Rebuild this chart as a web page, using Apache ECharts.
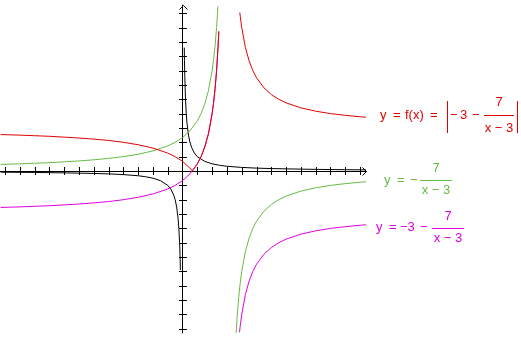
<!DOCTYPE html>
<html>
<head>
<meta charset="utf-8">
<script src="https://cdn.jsdelivr.net/npm/echarts@6/dist/echarts.min.js"></script>
<style>
  html, body { margin: 0; padding: 0; background: #fff; }
  #chart { width: 521px; height: 338px; }
</style>
</head>
<body>
<div id="chart"></div>
<script>
// axis extents (units)
const xMin = -12.34, xMax = 12.4;
const yMin = -11.29, yMax = 11.57;

// tick positions
const xTicks = [-12, -11, -10, -9, -8, -7, -6, -5, -4, -3, -2, -1, 1, 2, 3, 4, 5, 6, 7, 8, 9, 10, 11, 12];
const yTicks = [-11, -10, -9, -8, -7, -6, -5, -4, -3, -2, -1, 1, 2, 3, 4, 5, 6, 7, 8, 9, 10, 11];

// black curve
const blackLeft = [[-12.3, -0.08], [-10, -0.1], [-8, -0.13], [-6, -0.17], [-5, -0.2], [-4, -0.25], [-3, -0.33],
  [-2.5, -0.4], [-2, -0.5], [-1.5, -0.67], [-1, -1], [-0.8, -1.25], [-0.6, -1.67], [-0.5, -2], [-0.4, -2.5],
  [-0.3, -3.33], [-0.25, -4], [-0.2, -5], [-0.17, -5.88], [-0.145, -6.9]];
const blackRight = [[0.116, 8.6], [0.13, 7.7], [0.15, 6.67], [0.2, 5], [0.25, 4], [0.3, 3.33], [0.4, 2.5],
  [0.5, 2], [0.6, 1.67], [0.8, 1.25], [1, 1], [1.5, 0.67], [2, 0.5], [2.5, 0.4], [3, 0.33], [4, 0.25],
  [5, 0.2], [6, 0.17], [8, 0.13], [10, 0.1], [12.4, 0.08]];

// green: y = -7/(x-3)
const greenLeft = [[-12.3, 0.46], [-11, 0.5], [-10, 0.54], [-9, 0.58], [-8, 0.64], [-7, 0.7], [-6, 0.78],
  [-5, 0.88], [-4, 1], [-3, 1.17], [-2, 1.4], [-1, 1.75], [-0.5, 2], [0, 2.33], [0.5, 2.8], [1, 3.5],
  [1.25, 4], [1.5, 4.67], [1.75, 5.6], [2, 7], [2.1, 7.78], [2.2, 8.75], [2.3, 10], [2.39, 11.48]];
const greenRight = [[3.62, -11.29], [3.7, -10], [3.8, -8.75], [3.9, -7.78], [4, -7], [4.25, -5.6], [4.5, -4.67],
  [4.75, -4], [5, -3.5], [5.5, -2.8], [6, -2.33], [6.5, -2], [7, -1.75], [8, -1.4], [9, -1.17], [10, -1],
  [11, -0.88], [12, -0.78], [12.4, -0.75]];

// magenta: y = -3 - 7/(x-3)
const magentaLeft = [[-12.3, -2.54], [-11, -2.5], [-10, -2.46], [-9, -2.42], [-8, -2.36], [-7, -2.3], [-6, -2.22],
  [-5, -2.13], [-4, -2], [-3, -1.83], [-2, -1.6], [-1, -1.25], [-0.5, -1], [0, -0.67], [0.5, -0.2], [1, 0.5],
  [1.25, 1], [1.5, 1.67], [1.75, 2.6], [2, 4], [2.1, 4.78], [2.2, 5.75], [2.3, 7], [2.4, 8.67], [2.45, 9.73]];
const magentaRight = [[3.85, -11.24], [3.9, -10.78], [4, -10], [4.25, -8.6], [4.5, -7.67], [4.75, -7], [5, -6.5],
  [5.5, -5.8], [6, -5.33], [6.5, -5], [7, -4.75], [8, -4.4], [9, -4.17], [10, -4], [11, -3.88], [12, -3.78],
  [12.4, -3.75]];

// red: y = |-3 - 7/(x-3)|
const redLeft = [[-12.3, 2.54], [-11, 2.5], [-10, 2.46], [-9, 2.42], [-8, 2.36], [-7, 2.3], [-6, 2.22],
  [-5, 2.13], [-4, 2], [-3, 1.83], [-2, 1.6], [-1, 1.25], [-0.5, 1], [0, 0.67], [0.5, 0.2], [0.667, 0],
  [1, 0.5], [1.25, 1], [1.5, 1.67], [1.75, 2.6], [2, 4], [2.1, 4.78], [2.2, 5.75], [2.3, 7], [2.4, 8.67], [2.45, 9.73]];
const redRight = [[3.87, 11.05], [3.9, 10.78], [4, 10], [4.25, 8.6], [4.5, 7.67], [4.75, 7], [5, 6.5],
  [5.5, 5.8], [6, 5.33], [6.5, 5], [7, 4.75], [8, 4.4], [9, 4.17], [10, 4], [11, 3.88], [12, 3.78], [12.4, 3.75]];

const RED = '#e00000';
const GREEN = '#66bb44';
const MAGENTA = '#e000e0';
const FONT = '13px "Liberation Sans", Arial, sans-serif';

const chart = echarts.init(document.getElementById('chart'));

function curve(data, color) {
  return {
    type: 'line',
    data: data,
    showSymbol: false,
    symbol: 'none',
    silent: true,
    lineStyle: { color: color, width: 1 },
    clip: false
  };
}

function txt(x, y, s, color, align) {
  return {
    type: 'text',
    x: x, y: y,
    style: { text: s, fill: color, font: FONT, align: align || 'left', verticalAlign: 'middle' }
  };
}
function seg(x1, y1, x2, y2, color) {
  return { type: 'line', shape: { x1: x1, y1: y1, x2: x2, y2: y2 }, style: { stroke: color, lineWidth: 1 } };
}

chart.setOption({
  animation: false,
  grid: { left: 0, right: 155, top: 5, bottom: 5, containLabel: false },
  xAxis: {
    type: 'value', min: xMin, max: xMax,
    axisLine: { show: true, onZero: true, lineStyle: { color: '#000', width: 1 } },
    axisTick: { show: false }, axisLabel: { show: false }, splitLine: { show: false }
  },
  yAxis: {
    type: 'value', min: yMin, max: yMax,
    axisLine: { show: true, onZero: true, lineStyle: { color: '#000', width: 1 } },
    axisTick: { show: false }, axisLabel: { show: false }, splitLine: { show: false }
  },
  series: [
    {
      type: 'custom', silent: true, clip: false,
      data: xTicks.map(v => [v, 0]),
      renderItem: (params, api) => {
        const p = api.coord([api.value(0), api.value(1)]);
        const x = Math.round(p[0]) + 0.5, y = Math.round(p[1]);
        return { type: 'line', shape: { x1: x, y1: y - 4, x2: x, y2: y + 4 }, style: { stroke: '#000', lineWidth: 1 } };
      }
    },
    {
      type: 'custom', silent: true, clip: false,
      data: yTicks.map(v => [0, v]),
      renderItem: (params, api) => {
        const p = api.coord([api.value(0), api.value(1)]);
        const x = Math.round(p[0]), y = Math.round(p[1]) + 0.5;
        return { type: 'line', shape: { x1: x - 4, y1: y, x2: x + 4, y2: y }, style: { stroke: '#000', lineWidth: 1 } };
      }
    },
    {
      // arrow heads at the axis ends
      type: 'custom', silent: true, clip: false,
      data: [[xMax, 0, 0], [0, yMax, 1]],
      renderItem: (params, api) => {
        const p = api.coord([api.value(0), api.value(1)]);
        const x = Math.round(p[0]) + 0.5, y = Math.round(p[1]) + 0.5;
        const pts = api.value(2) === 0
          ? [[x - 4, y - 4], [x, y], [x - 4, y + 4]]
          : [[x - 4, y + 4], [x, y], [x + 4, y + 4]];
        return { type: 'polyline', shape: { points: pts }, style: { stroke: '#000', fill: null, lineWidth: 1 } };
      }
    },
    curve(blackLeft, '#000'),
    curve(blackRight, '#000'),
    curve(greenLeft, GREEN),
    curve(greenRight, GREEN),
    curve(magentaLeft, MAGENTA),
    curve(magentaRight, MAGENTA),
    curve(redLeft, RED),
    curve(redRight, RED)
  ],
  graphic: [
    // y = f(x) = |-3 - 7/(x-3)|
    txt(380, 115, 'y', RED),
    txt(393, 115, '=', RED),
    txt(405, 115, 'f(x)', RED),
    txt(430, 115, '=', RED),
    seg(447.5, 101, 447.5, 133, RED),
    txt(450, 115, '\u2212', RED),
    txt(460, 115, '3', RED),
    txt(472, 115, '\u2212', RED),
    seg(484, 115.5, 514, 115.5, RED),
    txt(499, 102, '7', RED, 'center'),
    txt(499, 128, 'x \u2212 3', RED, 'center'),
    seg(517.5, 101, 517.5, 133, RED),
    // y = -7/(x-3)
    txt(384, 180, 'y', GREEN),
    txt(397, 180, '=', GREEN),
    txt(410, 180, '\u2212', GREEN),
    seg(420, 180.5, 452, 180.5, GREEN),
    txt(436, 168, '7', GREEN, 'center'),
    txt(436, 190, 'x \u2212 3', GREEN, 'center'),
    // y = -3 - 7/(x-3)
    txt(376, 227, 'y', MAGENTA),
    txt(389, 227, '=', MAGENTA),
    txt(400, 227, '\u22123', MAGENTA),
    txt(420, 227, '\u2212', MAGENTA),
    seg(432, 228.5, 464, 228.5, MAGENTA),
    txt(448, 216, '7', MAGENTA, 'center'),
    txt(448, 238, 'x \u2212 3', MAGENTA, 'center')
  ]
});
</script>
</body>
</html>
